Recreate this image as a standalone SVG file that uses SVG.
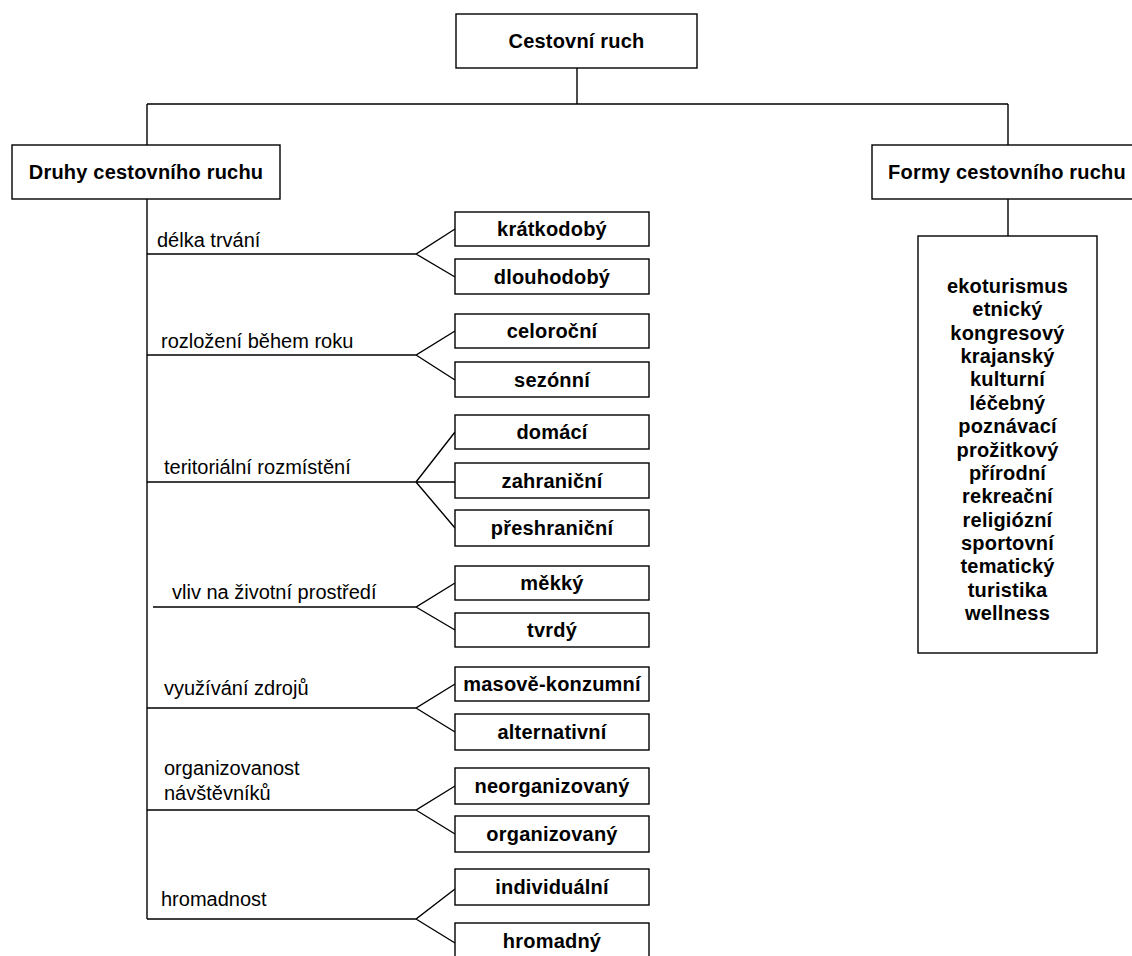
<svg xmlns="http://www.w3.org/2000/svg" width="1132" height="956" viewBox="0 0 1132 956">
<style>
.box{fill:#fff;stroke:#000;stroke-width:1.4}
.bt{font-family:"Liberation Sans",Arial,sans-serif;font-size:20px;font-weight:bold;text-anchor:middle;fill:#000;letter-spacing:0.2px}
.lb{font-family:"Liberation Sans",Arial,sans-serif;font-size:20px;fill:#000}
.ln{fill:none;stroke:#000;stroke-width:1.4}
</style>
<rect width="1132" height="956" fill="#fff"/>
<g id="connectors" class="ln">
<path d="M577,68V104M147,104H1008M147,104V145M1008,104V145M1008,199V236"/>
<path d="M147,199V919"/>
<path d="M147,254H416L455,229M416,254L455,277"/>
<path d="M147,355H416L455,331M416,355L455,380"/>
<path d="M147,482H416L455,432M416,482H455M416,482L455,528"/>
<path d="M153,607H416L455,583M416,607L455,630"/>
<path d="M147,708H416L455,684M416,708L455,732"/>
<path d="M147,810H416L455,786M416,810L455,834"/>
<path d="M147,919H416L455,889M416,919L455,943"/>
</g>
<g id="root"><rect class="box" x="456" y="14" width="241" height="54"/><text class="bt" x="576.5" y="48">Cestovní ruch</text></g>
<g id="druhy"><rect class="box" x="12" y="145" width="268" height="54"/><text class="bt" x="146" y="179">Druhy cestovního ruchu</text></g>
<g id="formy"><rect class="box" x="872" y="145" width="272" height="54"/><text class="bt" x="1007" y="179">Formy cestovního ruchu</text></g>
<g id="formy-list"><rect class="box" x="918" y="236" width="179" height="417"/>
<text class="bt" x="1007.5" y="293">ekoturismus</text>
<text class="bt" x="1007.5" y="316.4">etnický</text>
<text class="bt" x="1007.5" y="339.7">kongresový</text>
<text class="bt" x="1007.5" y="363.1">krajanský</text>
<text class="bt" x="1007.5" y="386.4">kulturní</text>
<text class="bt" x="1007.5" y="409.8">léčebný</text>
<text class="bt" x="1007.5" y="433.2">poznávací</text>
<text class="bt" x="1007.5" y="456.5">prožitkový</text>
<text class="bt" x="1007.5" y="479.9">přírodní</text>
<text class="bt" x="1007.5" y="503.2">rekreační</text>
<text class="bt" x="1007.5" y="526.6">religiózní</text>
<text class="bt" x="1007.5" y="550">sportovní</text>
<text class="bt" x="1007.5" y="573.3">tematický</text>
<text class="bt" x="1007.5" y="596.7">turistika</text>
<text class="bt" x="1007.5" y="620">wellness</text>
</g>
<g id="labels">
<text class="lb" x="157" y="247">délka trvání</text>
<text class="lb" x="161" y="348">rozložení během roku</text>
<text class="lb" x="164" y="474">teritoriální rozmístění</text>
<text class="lb" x="172" y="599">vliv na životní prostředí</text>
<text class="lb" x="164" y="695">využívání zdrojů</text>
<text class="lb" x="164" y="775">organizovanost</text>
<text class="lb" x="164" y="800">návštěvníků</text>
<text class="lb" x="161" y="906">hromadnost</text>
</g>
<g id="kratkodoby"><rect class="box" x="455" y="212" width="194" height="34"/><text class="bt" x="552" y="236">krátkodobý</text></g>
<g id="dlouhodoby"><rect class="box" x="455" y="259" width="194" height="35"/><text class="bt" x="552" y="283.5">dlouhodobý</text></g>
<g id="celorocni"><rect class="box" x="455" y="314" width="194" height="34"/><text class="bt" x="552" y="338">celoroční</text></g>
<g id="sezonni"><rect class="box" x="455" y="362" width="194" height="35"/><text class="bt" x="552" y="386.5">sezónní</text></g>
<g id="domaci"><rect class="box" x="455" y="415" width="194" height="34"/><text class="bt" x="552" y="439">domácí</text></g>
<g id="zahranicni"><rect class="box" x="455" y="463" width="194" height="35"/><text class="bt" x="552" y="487.5">zahraniční</text></g>
<g id="preshranicni"><rect class="box" x="455" y="510" width="194" height="36"/><text class="bt" x="552" y="535">přeshraniční</text></g>
<g id="mekky"><rect class="box" x="455" y="566" width="194" height="34"/><text class="bt" x="552" y="590">měkký</text></g>
<g id="tvrdy"><rect class="box" x="455" y="613" width="194" height="34"/><text class="bt" x="552" y="637">tvrdý</text></g>
<g id="masove"><rect class="box" x="455" y="667" width="194" height="34"/><text class="bt" x="552" y="691">masově-konzumní</text></g>
<g id="alternativni"><rect class="box" x="455" y="714" width="194" height="36"/><text class="bt" x="552" y="739">alternativní</text></g>
<g id="neorganizovany"><rect class="box" x="455" y="768" width="194" height="36"/><text class="bt" x="552" y="793">neorganizovaný</text></g>
<g id="organizovany"><rect class="box" x="455" y="816" width="194" height="36"/><text class="bt" x="552" y="841">organizovaný</text></g>
<g id="individualni"><rect class="box" x="455" y="869" width="194" height="36"/><text class="bt" x="552" y="894">individuální</text></g>
<g id="hromadny"><rect class="box" x="455" y="923" width="194" height="36"/><text class="bt" x="552" y="948">hromadný</text></g>
</svg>
